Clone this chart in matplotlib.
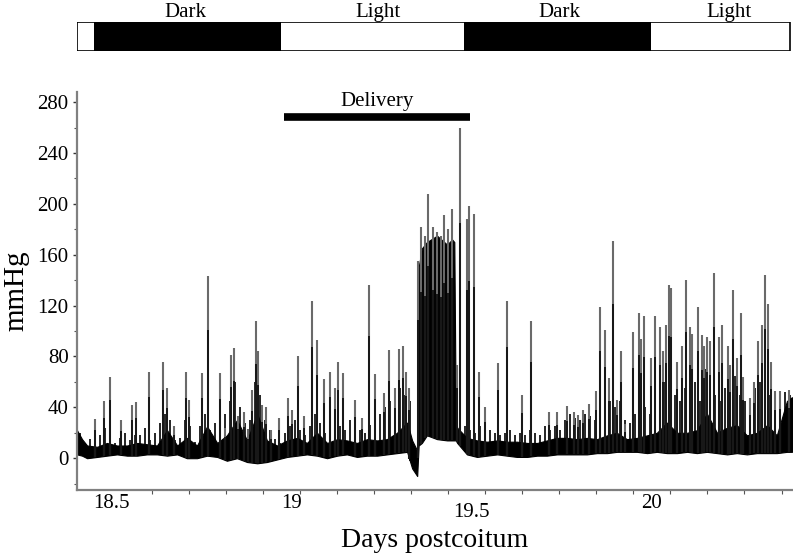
import numpy as np
import matplotlib
matplotlib.use("Agg")
import matplotlib.pyplot as plt
from matplotlib.transforms import ScaledTranslation

plt.rcParams['font.family'] = ['Liberation Serif', 'DejaVu Serif']

# ---------------- data ----------------
# light/dark phase boundaries (days postcoitum)
phase_edges = [18.452, 18.971, 19.479, 19.998, 20.384]
phase_names = ["Dark", "Light", "Dark", "Light"]
phase_dark = [True, False, True, False]
phase_label_x = [18.705, 19.240, 19.743, 20.214]
bar_start = 18.405

# delivery period
delivery_start = 18.979
delivery_end = 19.495
delivery_level = 268

# dense baseline band of the pressure trace (days, low, high in mmHg)
band_x = [18.405, 18.419, 18.433, 18.461, 18.488, 18.516, 18.544, 18.572, 18.599, 18.627,
          18.655, 18.683, 18.710, 18.738, 18.766, 18.794, 18.821, 18.849, 18.877, 18.905,
          18.932, 18.960, 18.988, 19.016, 19.043, 19.071, 19.099, 19.127, 19.154, 19.182,
          19.210, 19.238, 19.265, 19.293, 19.321, 19.335, 19.349, 19.353, 19.362, 19.376,
          19.404, 19.432, 19.446, 19.452, 19.456, 19.460, 19.487, 19.515, 19.543, 19.571,
          19.598, 19.626, 19.654, 19.682, 19.709, 19.737, 19.765, 19.793, 19.820, 19.848,
          19.876, 19.903, 19.931, 19.959, 19.987, 20.014, 20.042, 20.070, 20.098, 20.125,
          20.153, 20.181, 20.209, 20.236, 20.264, 20.292, 20.320, 20.347, 20.375, 20.389]
band_lo = [3, 2, 0, 1, 2, 3, 2, 2, 3, 3,
           2, 3, 0, 0, 2, 1, -2, 0, -3, -4,
           -3, -1, 1, 2, 3, 2, 0, 2, 3, 1,
           2, 2, 3, 4, 5, -8, -14, 10, 12, 18,
           15, 14, 14, 14, 14, 12, 3, 1, 2, 3,
           2, 1, 1, 2, 2, 3, 3, 3, 3, 4,
           4, 5, 5, 5, 4, 5, 4, 4, 5, 4,
           5, 4, 3, 4, 3, 4, 4, 4, 5, 5]
band_hi = [22, 15, 10, 9, 12, 10, 10, 12, 11, 10,
           22, 10, 16, 10, 25, 12, 18, 30, 14, 35,
           14, 10, 14, 16, 12, 20, 12, 15, 14, 12,
           15, 14, 15, 20, 28, 14, 6, 150, 165, 170,
           175, 168, 172, 170, 30, 24, 16, 14, 13, 14,
           13, 13, 12, 12, 14, 16, 16, 15, 16, 15,
           18, 20, 15, 16, 18, 20, 28, 20, 20, 22,
           35, 20, 24, 26, 18, 20, 26, 18, 45, 48]

# small oscillations riding on the baseline (days, peak mmHg)
small_x = [18.413, 18.427, 18.441, 18.455, 18.469, 18.483, 18.497, 18.511, 18.524, 18.538,
           18.552, 18.566, 18.580, 18.594, 18.608, 18.622, 18.635, 18.649, 18.663, 18.677,
           18.691, 18.705, 18.719, 18.733, 18.746, 18.760, 18.774, 18.788, 18.802, 18.816,
           18.830, 18.844, 18.857, 18.871, 18.885, 18.899, 18.913, 18.927, 18.941, 18.955,
           18.968, 18.982, 18.996, 19.010, 19.024, 19.038, 19.052, 19.066, 19.079, 19.093,
           19.107, 19.121, 19.135, 19.149, 19.163, 19.177, 19.190, 19.204, 19.218, 19.232,
           19.246, 19.260, 19.274, 19.288, 19.301, 19.315, 19.329,
           19.468, 19.482, 19.496, 19.510, 19.523, 19.537, 19.551, 19.565, 19.579, 19.593,
           19.607, 19.621, 19.634, 19.648, 19.662, 19.676, 19.690, 19.704, 19.718, 19.732,
           19.745, 19.759, 19.773, 19.787, 19.801, 19.815, 19.829, 19.843, 19.856, 19.870,
           19.884, 19.898, 19.912, 19.926, 19.940, 19.954, 19.967, 19.981, 19.995, 20.009,
           20.023, 20.037, 20.051, 20.065, 20.078, 20.092, 20.106, 20.120, 20.134, 20.148,
           20.162, 20.176, 20.189, 20.203, 20.217, 20.231, 20.245, 20.259, 20.273, 20.287,
           20.300, 20.314, 20.328, 20.342, 20.356, 20.370, 20.384]
small_y = [20, 12, 15, 22, 18, 24, 25, 12, 16, 20, 14, 18,
           18, 24, 14, 20, 28, 35, 30, 14, 16, 30, 25, 13, 25,
           35, 22, 28, 40, 35, 45, 60, 40, 28, 30, 60, 50, 30, 22, 15, 12,
           20, 25, 30, 22, 18, 25, 35, 28, 20, 30, 35, 25, 22, 30, 28, 22,
           20, 26, 30, 35, 40, 45, 30, 55, 50, 45,
           30, 25, 22, 20, 25, 18, 22, 20, 18, 20, 22, 18, 20, 18, 22, 20,
           18, 25, 22, 25, 22, 30, 35, 32, 30, 35, 33, 30, 35, 40, 45, 40,
           45, 30, 28, 35, 45, 40, 35, 45, 55, 60, 65, 50, 45, 55, 50, 60,
           45, 70, 65, 50, 45, 55, 60, 65, 50, 45, 40, 55, 60, 65, 50, 40,
           45, 52, 50]

# contraction spikes: time (days) and peak pressure (mmHg)
spike_x = [18.455, 18.480, 18.4975, 18.527, 18.5577, 18.568, 18.604, 18.6429, 18.654, 18.6743,
           18.7067, 18.7159, 18.7511, 18.7677, 18.8019, 18.8158, 18.8324, 18.8399, 18.8527, 18.8685,
           18.8787, 18.8915, 18.9018, 18.9082, 18.9176, 18.9287, 18.9434, 18.9656, 18.9897, 19.0025,
           19.0175, 19.0358, 19.0563, 19.0702, 19.0904, 19.1071, 19.121, 19.1285, 19.1423, 19.1765,
           19.1967, 19.2153, 19.232, 19.2569, 19.2716, 19.2875, 19.2986, 19.3105, 19.3172, 19.3272,
           19.3513, 19.3596, 19.3707, 19.3799, 19.3937, 19.404, 19.4151, 19.4234, 19.4345, 19.4448,
           19.4587, 19.4678, 19.4864, 19.492, 19.5075, 19.5214, 19.5372, 19.5741, 19.5991, 19.639,
           19.6648, 19.7156, 19.7361, 19.7639, 19.785, 19.7961, 19.8083, 19.8266, 19.8452, 19.8563,
           19.871, 19.8813, 19.8915, 19.9026, 19.9145, 19.9265, 19.9487, 19.9645, 19.9709, 19.9784,
           19.9986, 20.0097, 20.0219, 20.0302, 20.0394, 20.0485, 20.0524, 20.0691, 20.0846, 20.094,
           20.106, 20.1123, 20.1273, 20.1384, 20.1456, 20.154, 20.1614, 20.1734, 20.1864, 20.1956,
           20.2106, 20.2178, 20.2261, 20.2355, 20.2466, 20.2539, 20.2725, 20.2844, 20.2955, 20.3049,
           20.3141, 20.3216, 20.3307, 20.3418, 20.3557, 20.3807]
spike_y = [31, 45, 64, 30, 42, 44, 68, 76, 55, 25,
           68, 46, 67, 143, 67, 24, 81, 87, 33, 36,
           23, 54, 108, 84, 42, 40, 22, 32, 47, 38,
           80, 33, 124, 93, 62, 68, 55, 76, 67, 46,
           32, 136, 66, 51, 85, 55, 86, 88, 68, 55,
           155, 182, 175, 208, 182, 178, 175, 191, 180, 196,
           73, 260, 188, 198, 192, 68, 40, 75, 124, 50,
           108, 36, 36, 41, 36, 34, 38, 43, 53, 119,
           101, 63, 171, 46, 84, 27, 99, 114, 94, 112,
           79, 112, 103, 84, 105, 136, 134, 76, 88, 140,
           103, 98, 119, 97, 88, 95, 92, 146, 95, 105,
           88, 73, 132, 79, 114, 64, 47, 60, 92, 105,
           144, 121, 76, 53, 53, 54]

x_tick_vals = [18.5, 19, 19.5, 20]
x_tick_text = ["18.5", "19", "19.5", "20"]
y_tick_vals = [0, 40, 80, 120, 160, 200, 240, 280]

# ---------------- figure ----------------
fig = plt.figure(figsize=(7.93, 5.56), dpi=100)
xlim = (18.405, 20.389)

ax = fig.add_axes([0.0971, 0.1187, 0.9016, 0.7158])
ax.fill_between(band_x, band_lo, band_hi, color='black', linewidth=0.8, edgecolor='black')

sbase = np.interp(small_x, band_x, band_lo)
ax.vlines(small_x, sbase, small_y, color='black', linewidth=1.2)

base = np.interp(spike_x, band_x, band_lo)
sy = np.array(spike_y, dtype=float)
ax.vlines(spike_x, base, sy, color='#6a6a6a', linewidth=1.5)
ax.vlines(spike_x, base, base + 0.7 * (sy - base), color='black', linewidth=1.1)

ax.hlines(delivery_level, delivery_start, delivery_end, color='black', linewidth=5.5)
ax.text((delivery_start + delivery_end) / 2, delivery_level + 5, "Delivery",
        ha='center', va='bottom', fontsize=15)

ax.set_xlim(*xlim)
ax.set_ylim(-25, 288)
for s in ['top', 'right']:
    ax.spines[s].set_visible(False)
for s in ['left', 'bottom']:
    ax.spines[s].set_color('#808080')
    ax.spines[s].set_linewidth(1.6)

ax.set_yticks(y_tick_vals)
ax.set_yticks(np.arange(-20, 290, 20), minor=True)
ax.tick_params(axis='y', which='major', length=3, width=1, labelsize=15, pad=3, color='#333333')
ax.tick_params(axis='y', which='minor', length=2, width=0.8, color='#555555')

ax.set_xticks(x_tick_vals)
ax.set_xticklabels(x_tick_text)
ax.set_xticks(np.arange(18.6124, 20.37, 0.1028), minor=True)
ax.tick_params(axis='x', which='major', length=0, labelsize=15, pad=3)
ax.tick_params(axis='x', which='minor', length=3, width=0.8, color='#555555')
for lab in ax.get_xticklabels():
    if lab.get_text() == "19.5":
        lab.set_transform(lab.get_transform() + ScaledTranslation(0, -6 / 72, fig.dpi_scale_trans))

ax.set_xlabel("Days postcoitum", fontsize=20, labelpad=5)
ax.set_ylabel("mmHg", fontsize=21, labelpad=6)

# light/dark bar
bx = fig.add_axes([0.0971, 0.9083, 0.9016, 0.0522])
bx.set_xlim(*xlim)
bx.set_ylim(0, 1)
for i in range(len(phase_edges) - 1):
    if phase_dark[i]:
        bx.barh(0.5, phase_edges[i + 1] - phase_edges[i], left=phase_edges[i], height=1.0,
                color='black', linewidth=0)
bx.barh(0.5, phase_edges[-1] - bar_start, left=bar_start, height=0.98, fill=False,
        edgecolor='black', linewidth=1.2)
for name, xp in zip(phase_names, phase_label_x):
    bx.text(xp, 1.0, name, ha='center', va='bottom', fontsize=15)
bx.axis('off')

fig.savefig("out.png", dpi=100)
